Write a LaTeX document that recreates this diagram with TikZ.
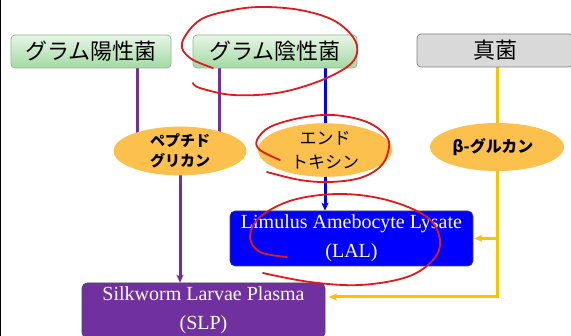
\documentclass[tikz,border=0pt]{standalone}
\usepackage{fontspec}
\setmainfont{Liberation Serif}
\newfontfamily\jp{Noto Sans CJK JP}
\usetikzlibrary{arrows.meta,backgrounds,calc,shapes.geometric}
\definecolor{vio}{HTML}{7030A0}
\definecolor{blu}{HTML}{0000FF}
\definecolor{org}{HTML}{FFC000}
\definecolor{ellc}{HTML}{FCC04C}
\definecolor{gtop}{HTML}{E6F6E6}
\definecolor{gbot}{HTML}{A2DAA2}
\definecolor{gbrd}{HTML}{8DB98D}
\definecolor{grayf}{HTML}{D9D9D9}
\definecolor{rd}{HTML}{E01A1A}
\begin{document}
\begin{tikzpicture}[x=1pt,y=-1pt,
  gbox/.style={draw=gbrd, rounded corners=4pt, top color=gtop, bottom color=gbot,
    minimum height=33pt, inner sep=0pt, line width=0.7pt,
    font=\jp\fontsize{22}{24}\selectfont},
  graybox/.style={draw=gray, fill=grayf, rounded corners=4pt,
    minimum height=33pt, inner sep=0pt, line width=0.7pt,
    font=\jp\fontsize{22}{24}\selectfont},
  ellnode/.style={ellipse, fill=ellc, inner sep=0pt, align=center},
  resbox/.style={draw=black!70, rounded corners=5pt, minimum width=243pt,
    minimum height=55pt, inner sep=0pt, align=center, text=white,
    font=\fontsize{20}{29}\selectfont, line width=0.6pt},
  vl/.style={vio, line width=3pt},
  bl/.style={blu, line width=3pt},
  ol/.style={org, line width=3pt},
  arr/.style={-{Stealth[length=8pt,width=7pt,inset=2pt]}},
  redloop/.style={rd, line width=1.8pt, line cap=round, line join=round}
]
\clip (0,0) rectangle (571,336);

\node[gbox, minimum width=160pt] (gp) at (91,51.5) {グラム陽性菌};
\node[gbox, minimum width=164pt] (gn) at (275,51.5) {グラム陰性菌};
\node[graybox, minimum width=156pt] (fg) at (495,50.5) {真菌};

\node[ellnode, minimum width=133pt, minimum height=48pt,
  font=\jp\bfseries\fontsize{15}{20}\selectfont] (pep) at (180,151) {ペプチド\\グリカン};
\node[ellnode, minimum width=134pt, minimum height=46pt,
  font=\jp\fontsize{17}{24}\selectfont] (endo) at (325,150) {エンド\\トキシン};
\node[ellnode, minimum width=134pt, minimum height=48pt,
  font=\jp\bfseries\fontsize{16}{20}\selectfont] (beta) at (497,147) {\hspace*{-8pt}β-グルカン};

\node[resbox, fill=blu] (lal) at (351.5,238.5) {Limulus Amebocyte Lysate\\(LAL)};
\node[resbox, fill=vio] (slp) at (203.5,310.5) {Silkworm Larvae Plasma\\(SLP)};

\coordinate (p1) at (137,0);
\coordinate (p2) at (219,0);
\coordinate (c1) at (329,297);

\begin{scope}[on background layer]
\fill[white] (0,0) rectangle (571,336);
\draw[line width=1pt] (0.5,0) -- (0.5,336);
\draw[vl] (gp.south -| p1) -- (p1 |- pep.center);
\draw[vl] (gn.south -| p2) -- (p2 |- pep.center);
\draw[bl, arr] (gn.south -| endo.center) -- (endo.center |- lal.north);
\draw[vl, arr] (pep.center) -- (pep.center |- slp.north);
\draw[ol] (fg.south -| beta.center) -- (beta.center);
\draw[ol, arr] (beta.center) -- (beta.center |- c1) -- (c1);
\draw[ol, arr] (beta.center |- lal.east) -- ($(lal.east)+(1,0)$);
\end{scope}

\draw[redloop] plot[smooth, tension=0.6] coordinates {
  (213,68) (190,58) (182,43) (200,20) (233,10) (263,7) (300,10) (333,20)
  (353,37) (357,53) (347,67) (317,82) (277,93) (233,95) (200,88) (193,83)};
\draw[redloop] plot[smooth, tension=0.6] coordinates {
  (280,160) (260,150) (257,140) (270,127) (300,118) (333,115) (367,122)
  (387,137) (388,152) (380,167) (360,178) (330,182) (300,180) (267,172)};
\draw[redloop] plot[smooth, tension=0.6] coordinates {
  (287,257) (260,252) (250,237) (260,217) (293,200) (340,194) (387,200)
  (427,217) (440,240) (433,260) (407,277) (360,285) (310,282) (263,273)};
\end{tikzpicture}
\end{document}
